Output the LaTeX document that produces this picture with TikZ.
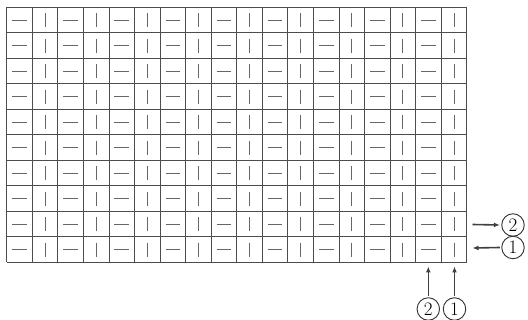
\documentclass[tikz,border=0pt]{standalone}
\usetikzlibrary{arrows.meta}
\begin{document}
\begin{tikzpicture}[x=1pt,y=-1pt,
  gridline/.style={draw=black!70, line width=0.8pt},
  mark h/.style={draw=black!60, line width=0.9pt},
  pointer/.style={draw=black!75, line width=1.6pt, -{Latex[length=6pt,width=5pt]}},
  num/.style={circle, draw=black!80, line width=0.9pt, minimum size=22.5pt, inner sep=0pt, font=\fontsize{19}{19}\selectfont}
]
\useasboundingbox (0,0) rectangle (528,320);
\def\gx{6.7}\def\gy{7.3}\def\cw{25.56}\def\rh{25.5}
% grid
\foreach \i in {0,...,18} {
  \draw[gridline] (\gx+\i*\cw, \gy) -- (\gx+\i*\cw, \gy+10*\rh);
}
\foreach \j in {0,...,10} {
  \draw[gridline] (\gx, \gy+\j*\rh) -- (\gx+18*\cw, \gy+\j*\rh);
}
% marks
\foreach \r in {0,...,9} {
  \foreach \c in {0,...,8} {
    \draw[mark h] (\gx+2*\c*\cw+0.5*\cw-7.3, \gy+\r*\rh+0.5*\rh) -- ++(14.6,0);
    \draw[mark h] (\gx+2*\c*\cw+1.5*\cw, \gy+\r*\rh+0.5*\rh-7) -- ++(0,14);
  }
}
% labels
\node[num] (r2) at (513,225) {2};
\node[num] (r1) at (513,247.5) {1};
\node[num] (b2) at (428.3,309) {2};
\node[num] (b1) at (454.5,309) {1};
\coordinate (ar2s) at (472.5,224.5);
\coordinate (ar1e) at (472.5,248);
\coordinate (ab2e) at (428.3,266.5);
\coordinate (ab1e) at (454.5,266.5);
\draw[pointer] (ar2s) -- ([xshift=-1.5pt]r2.west);
\draw[pointer] ([xshift=-1.5pt]r1.west) -- (ar1e);
\draw[pointer] ([yshift=1.5pt]b2.north) -- (ab2e);
\draw[pointer] ([yshift=1.5pt]b1.north) -- (ab1e);
\end{tikzpicture}
\end{document}
